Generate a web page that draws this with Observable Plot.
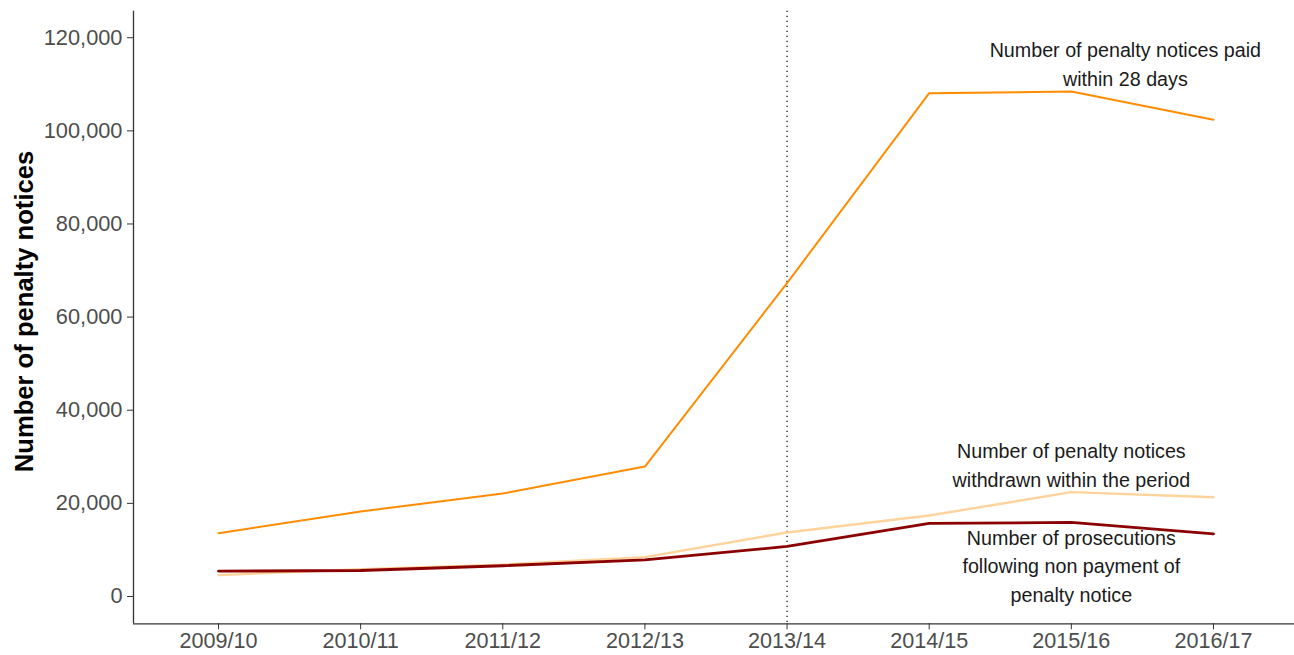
<!DOCTYPE html>
<html><head><meta charset="utf-8">
<script src="https://cdn.jsdelivr.net/npm/d3@7"></script>
<script src="https://cdn.jsdelivr.net/npm/@observablehq/plot@0.6"></script>
<style>body{margin:0;background:#fff} svg{display:block}</style>
</head><body><div id="chart"></div>
<script>
const years = ["2009/10","2010/11","2011/12","2012/13","2013/14","2014/15","2015/16","2016/17"];
const paid = [13600, 18250, 22100, 27900, 67300, 108100, 108450, 102400];
const withdrawn = [4580, 5850, 6850, 8450, 13750, 17400, 22400, 21300];
const prosecutions = [5430, 5580, 6600, 7880, 10740, 15680, 15900, 13460];
const yTicks = [0, 20000, 40000, 60000, 80000, 100000, 120000];
const markerYear = "2013/14";
const labelText = [
  "Number of penalty notices paid\nwithin 28 days",
  "Number of penalty notices\nwithdrawn within the period",
  "Number of prosecutions\nfollowing non payment of\npenalty notice"
];
const labelPos = [6.38, 6, 6];
const labelVal = [114700, 28600, 6900];
const yTitle = "Number of penalty notices";

const xDomain = [-0.598, 7.57];
const yDomain = [-5870, 125700];

const idx = years.map((_, i) => i);
const series = [
  {name: "withdrawn", values: withdrawn, color: "#FFD39B", width: 2.4},
  {name: "prosecutions", values: prosecutions, color: "#8B0000", width: 2.8},
  {name: "paid", values: paid, color: "#FF8C00", width: 2}
];
const labels = labelText.map((t, i) => ({t, x: labelPos[i], y: labelVal[i]}));

const lineMarks = series.map(s => Plot.line(idx, {
  x: i => i, y: i => s.values[i], stroke: s.color, strokeWidth: s.width
}));

const chart = Plot.plot({
  width: 1294, height: 655,
  marginLeft: 133, marginRight: 0, marginTop: 10.7, marginBottom: 31.7,
  style: {fontFamily: "'Liberation Sans', Arial, sans-serif", background: "#fff"},
  x: {type: "linear", domain: xDomain},
  y: {type: "linear", domain: yDomain},
  marks: [
    Plot.ruleX([years.indexOf(markerYear)], {stroke: "#000", strokeWidth: 1.2, strokeDasharray: "1.2,3.8"}),
    ...lineMarks,
    Plot.text(labels, {x: "x", y: "y", text: "t", fontSize: 19.7, lineHeight: 1.45, fill: "#1a1a1a", textAnchor: "middle"}),
    Plot.axisY({ticks: yTicks, tickFormat: d3.format(","), tickSize: 6, tickPadding: 5, fontSize: 21.8, fill: "#4d4d4d", stroke: "#333", label: null}),
    Plot.axisX({ticks: idx, tickFormat: i => years[i], tickSize: 6, tickPadding: 3, fontSize: 21.6, fill: "#4d4d4d", stroke: "#333", label: null}),
    Plot.ruleX([xDomain[0]], {stroke: "#333", strokeWidth: 1.3}),
    Plot.ruleY([yDomain[0]], {stroke: "#333", strokeWidth: 1.3}),
    Plot.text([yTitle], {frameAnchor: "left", textAnchor: "middle", dx: -109, dy: -6, rotate: -90, fontWeight: "bold", fontSize: 25.6, fill: "#000"})
  ]
});
document.getElementById("chart").appendChild(chart);
</script></body></html>
